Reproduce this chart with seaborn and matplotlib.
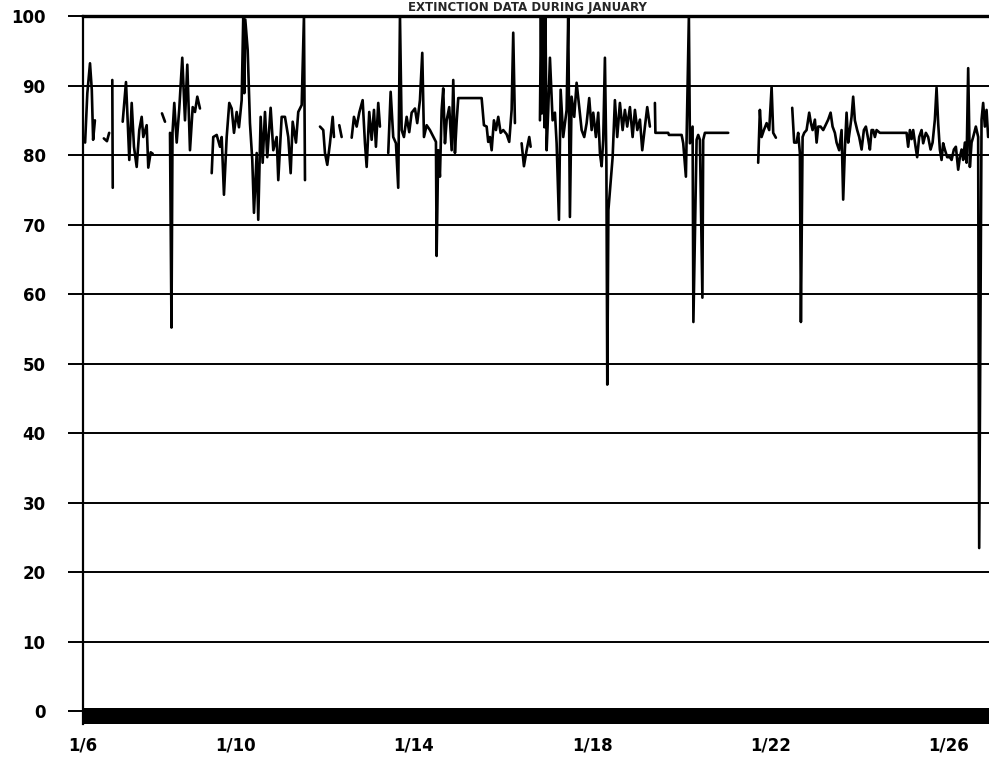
import numpy as np
import pandas as pd
import matplotlib
matplotlib.use("Agg")
import matplotlib.pyplot as plt
import seaborn as sns

# ---- data: days since 1/6 00:00, extinction values (%) ----
seg_a_t = [0.63, 0.68, 0.74, 0.78, 0.81, 0.85]
seg_a_v = [81.8, 88.9, 93.2, 89.4, 82.2, 85.0]

seg_b_t = [1.05, 1.12, 1.17]
seg_b_v = [82.4, 82.0, 83.2]

seg_c_t = [1.24, 1.25]
seg_c_v = [90.8, 75.3]

seg_d_t = [1.473, 1.547, 1.585, 1.621, 1.675, 1.726, 1.787, 1.845, 1.899, 1.935,
           2.011, 2.047, 2.101, 2.146]
seg_d_v = [84.8, 90.5, 84.9, 79.3, 87.5, 81.2, 78.3, 83.6, 85.5, 82.6,
           84.3, 78.2, 80.4, 80.2]

seg_e_t = [2.354, 2.422]
seg_e_v = [86.0, 84.8]

seg_f_t = [2.534, 2.567, 2.590, 2.630, 2.684, 2.742, 2.809, 2.870, 2.922, 2.982,
           3.043, 3.094, 3.146, 3.206]
seg_f_v = [83.2, 55.2, 83.2, 87.5, 81.8, 86.7, 94.0, 85.0, 93.0, 80.7,
           86.9, 86.2, 88.4, 86.7]

seg_g_t = [3.469, 3.504, 3.581, 3.655, 3.693, 3.744, 3.805, 3.863, 3.917, 3.969,
           4.029, 4.081, 4.141, 4.177, 4.200, 4.222, 4.276, 4.327, 4.379, 4.417,
           4.478, 4.513, 4.567, 4.612, 4.664, 4.715, 4.791, 4.850, 4.926, 4.962,
           5.038, 5.112, 5.186, 5.240, 5.285, 5.359, 5.410, 5.487, 5.538, 5.561]
seg_g_v = [77.4, 82.6, 82.9, 81.2, 82.6, 74.3, 82.6, 87.5, 86.7, 83.2,
           86.2, 84.0, 87.9, 100.0, 88.9, 99.5, 95.1, 84.6, 79.3, 71.7,
           80.3, 70.7, 85.5, 78.9, 86.2, 79.7, 86.8, 80.7, 82.6, 76.4,
           85.5, 85.5, 82.6, 77.4, 84.8, 81.8, 86.2, 87.2, 100.0, 76.4]

seg_h_t = [5.897, 5.971, 6.009, 6.061, 6.121, 6.182, 6.211]
seg_h_v = [84.1, 83.6, 80.3, 78.6, 81.7, 85.5, 82.6]

seg_i_t = [6.330, 6.383]
seg_i_v = [84.3, 82.6]

seg_j_t = [6.608, 6.659, 6.720, 6.778, 6.854, 6.906, 6.944, 7.002, 7.056, 7.108,
           7.152, 7.204, 7.242]
seg_j_v = [82.5, 85.5, 84.1, 86.1, 87.9, 81.7, 78.3, 86.2, 82.2, 86.5,
           81.2, 87.5, 84.1]

seg_k_t = [7.428, 7.482, 7.540, 7.601, 7.652, 7.691, 7.729, 7.780, 7.841, 7.899,
           7.953, 8.027, 8.078, 8.139, 8.191, 8.229, 8.289, 8.363,
           8.498, 8.513, 8.549, 8.587, 8.626, 8.661, 8.700, 8.738, 8.796, 8.850,
           8.886, 8.924, 8.962, 8.998, 9.522, 9.545, 9.574, 9.635, 9.670, 9.709,
           9.747, 9.798, 9.843, 9.895, 9.948, 10.007, 10.083, 10.141, 10.195,
           10.231, 10.269]
seg_k_v = [80.3, 89.1, 82.6, 81.7, 75.3, 100.0, 83.6, 82.6, 85.5, 83.3,
           86.1, 86.7, 84.6, 87.9, 94.7, 82.6, 84.3, 83.6,
           81.9, 65.5, 80.7, 76.9, 86.5, 89.6, 81.7, 85.0, 86.9, 80.7,
           90.8, 80.3, 84.8, 88.2, 88.2, 86.5, 84.3, 84.1, 81.9, 82.6,
           80.7, 85.0, 83.6, 85.5, 83.2, 83.6, 83.0, 81.9, 86.5,
           97.6, 84.6]

seg_m_t = [10.419, 10.471, 10.531, 10.590, 10.621]
seg_m_v = [81.7, 78.4, 80.7, 82.6, 81.2]

seg_n_t = [10.830, 10.852, 10.874, 10.897, 10.930, 10.953, 10.980, 11.016, 11.054, 11.114,
           11.166, 11.204, 11.256, 11.294, 11.352, 11.428, 11.464, 11.502, 11.540, 11.599,
           11.652, 11.711, 11.765, 11.823, 11.877, 11.935, 11.989, 12.025, 12.085, 12.137,
           12.175, 12.213, 12.249, 12.287, 12.320, 12.340, 12.365, 12.460, 12.511, 12.563,
           12.623, 12.684, 12.735, 12.787, 12.848, 12.908, 12.960, 13.013, 13.072, 13.124,
           13.184, 13.236, 13.296]
seg_n_v = [85.0, 100.0, 86.0, 100.0, 84.0, 100.0, 80.7, 86.5, 94.0, 85.0,
           86.1, 81.7, 70.7, 89.4, 82.6, 86.5, 100.0, 71.1, 88.4, 85.5,
           90.4, 86.9, 83.6, 82.6, 84.6, 88.2, 83.6, 86.1, 82.6, 86.1,
           80.3, 78.4, 82.2, 94.0, 78.9, 47.0, 72.1, 79.7, 87.9, 82.6,
           87.5, 83.6, 86.5, 84.1, 86.9, 82.6, 86.5, 83.6, 85.1, 80.7,
           84.1, 86.9, 84.1]

seg_o_t = [13.408, 13.419, 13.706, 13.722, 14.007, 14.043, 14.103, 14.170, 14.193, 14.253,
           14.271, 14.343, 14.379, 14.417, 14.473, 14.491, 14.529, 15.052]
seg_o_v = [87.5, 83.2, 83.2, 82.9, 82.9, 81.7, 76.9, 100.0, 81.7, 84.1,
           56.0, 82.2, 82.9, 82.2, 59.5, 82.2, 83.2, 83.2]

seg_p_t = [15.724, 15.762, 15.800, 15.852, 15.913, 15.971, 16.025, 16.061, 16.121]
seg_p_v = [78.9, 86.5, 82.6, 83.6, 84.6, 83.6, 89.8, 83.2, 82.5]

seg_q_t = [16.487, 16.531, 16.585, 16.621, 16.659, 16.682, 16.720, 16.756, 16.809, 16.868,
           16.906, 16.944, 16.996, 17.034, 17.070, 17.123, 17.182, 17.220, 17.294, 17.348,
           17.392, 17.444, 17.482, 17.540, 17.594, 17.630, 17.668, 17.706, 17.742, 17.780,
           17.818, 17.854, 17.892, 17.944, 17.989, 18.043, 18.094, 18.139, 18.191, 18.229,
           18.267, 18.303, 18.341, 18.379, 18.453, 19.052, 19.087, 19.126, 19.164, 19.200,
           19.253, 19.289, 19.334, 19.388, 19.424, 19.484, 19.536, 19.590, 19.635, 19.686,
           19.724, 19.760, 19.798, 19.836, 19.872, 19.910, 19.962, 20.022, 20.061, 20.112,
           20.157, 20.209, 20.247, 20.285, 20.321, 20.359, 20.397, 20.433, 20.471, 20.509,
           20.545, 20.605, 20.657, 20.680, 20.733, 20.769, 20.807, 20.845, 20.881]
seg_q_v = [86.8, 81.8, 81.8, 83.2, 80.3, 56.0, 82.6, 83.2, 83.6, 86.1,
           84.6, 83.6, 85.1, 81.8, 84.1, 84.1, 83.6, 84.1, 85.1, 86.1,
           84.1, 83.2, 81.8, 80.7, 83.6, 73.6, 80.8, 86.1, 81.8, 83.6,
           85.5, 88.4, 85.0, 83.6, 82.6, 80.8, 83.6, 84.1, 82.3, 80.8,
           83.6, 83.6, 82.6, 83.6, 83.2, 83.2, 81.2, 83.6, 82.3, 83.6,
           81.2, 79.7, 82.6, 83.6, 81.7, 83.2, 82.6, 80.8, 81.8, 85.1,
           89.7, 84.6, 80.8, 79.3, 81.7, 80.8, 79.7, 79.7, 79.3, 80.8,
           81.2, 77.9, 79.7, 80.8, 79.3, 81.8, 78.9, 92.5, 78.3, 81.8,
           82.6, 84.1, 82.6, 23.5, 85.1, 87.5, 84.1, 86.5, 82.6]

tick_days = [0, 4, 8, 12, 16, 20]
tick_labels = ["1/6", "1/10", "1/14", "1/18", "1/22", "1/26"]
y_ticks = list(range(0, 101, 10))
title_text = "EXTINCTION DATA DURING JANUARY"

segments = {
    "a": (seg_a_t, seg_a_v), "b": (seg_b_t, seg_b_v), "c": (seg_c_t, seg_c_v),
    "d": (seg_d_t, seg_d_v), "e": (seg_e_t, seg_e_v), "f": (seg_f_t, seg_f_v),
    "g": (seg_g_t, seg_g_v), "h": (seg_h_t, seg_h_v), "i": (seg_i_t, seg_i_v),
    "j": (seg_j_t, seg_j_v), "k": (seg_k_t, seg_k_v), "m": (seg_m_t, seg_m_v),
    "n": (seg_n_t, seg_n_v), "o": (seg_o_t, seg_o_v), "p": (seg_p_t, seg_p_v),
    "q": (seg_q_t, seg_q_v),
}
frames = [pd.DataFrame({"day": t, "value": v, "seg": k}) for k, (t, v) in segments.items()]
df = pd.concat(frames, ignore_index=True)

# ---- plot ----
sns.set_style("white")
plt.rcParams["font.family"] = ["DejaVu Sans"]

fig = plt.figure(figsize=(9.89, 7.67), dpi=100)
ax = fig.add_axes([83 / 989, 43 / 767, 1 - 83 / 989, (724 - 16) / 767])

x_start, x_end = 0.583, 20.90
ax.set_xlim(x_start, x_end)
ax.set_ylim(-1.8, 100)

# horizontal grid lines
for yv in y_ticks[1:]:
    ax.axhline(yv, color="black", lw=1.4, zorder=1)

# thick baseline band at zero
ax.axhspan(-1.8, 0.55, color="black", lw=0, zorder=2)

sns.lineplot(data=df, x="day", y="value", units="seg", estimator=None,
             color="black", lw=1.9, ax=ax, zorder=3, sort=False)

ax.set_xlabel("")
ax.set_ylabel("")

ax.set_yticks(y_ticks)
ax.set_yticklabels([str(t) for t in y_ticks], fontsize=12, fontweight="bold")
ax.tick_params(axis="y", direction="out", length=11, width=1.4, pad=16,
               colors="black", left=True)

xt = [max(t, x_start) for t in tick_days]
ax.set_xticks(xt)
ax.set_xticklabels(tick_labels, fontsize=12, fontweight="bold")
ax.tick_params(axis="x", length=0, pad=9, colors="black")

for s in ["right", "bottom"]:
    ax.spines[s].set_visible(False)
ax.spines["left"].set_linewidth(1.6)
ax.spines["left"].set_color("black")
ax.spines["top"].set_linewidth(2.4)
ax.spines["top"].set_color("black")

fig.text(527 / 989, 1 - 1.5 / 767, title_text, ha="center", va="top",
         fontsize=8.5, fontweight="bold")

fig.savefig("out.png", dpi=100)
